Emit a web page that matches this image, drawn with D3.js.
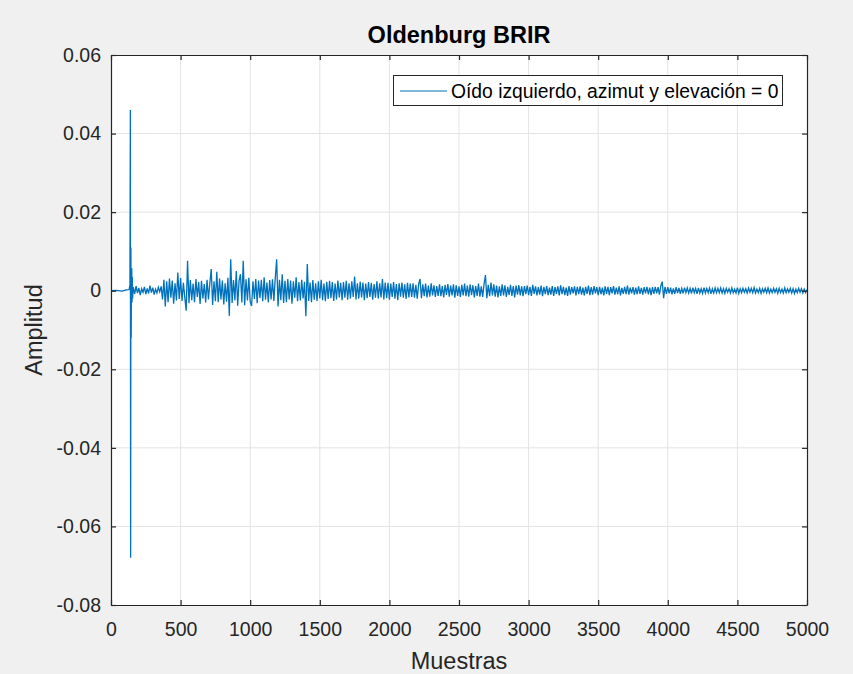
<!DOCTYPE html>
<html>
<head>
<meta charset="utf-8">
<script src="https://cdn.jsdelivr.net/npm/d3@7"></script>
<style>
  body { margin: 0; background: #f0f0f0; }
  svg { display: block; font-family: "Liberation Sans", Arial, sans-serif; }
</style>
</head>
<body>
<script>
// direct sound: sample index and amplitude (x 1e-3)
const onsetSamples = [0, 40, 80, 110, 130, 136, 139, 141, 143, 145, 147, 149, 151, 153, 155];
const onsetAmps = [0, 0.1, -0.1, 0.2, 0.3, 1.5, 46, -68, 11, -12, 3.5, 5.7, -3.0, 3.5, -2.0];

// reverberant tail read every 10 samples from sample 160 (x 1e-3)
const tailStart = 160;
const tailStep = 10;
const tailAmps = [
  0.9,-0.8,1.2,-0.6,0.7,-1.1,0.5,-0.4,1.0,-0.9,0.6,-0.7,1.3,-0.5,0.8,-1.0,0.4,-0.6,0.9,-0.3,
  1.1,-2.2,2.8,-4.0,2.4,-2.9,3.1,-1.8,2.6,-3.3,1.9,-2.5,4.6,-2.1,3.2,-2.6,2.0,-1.7,-5.1,7.6,
  -3.2,2.7,-2.4,1.8,-2.9,3.0,-1.6,2.2,-3.4,2.5,-2.0,1.7,-3.0,2.8,-2.2,1.9,5.5,-3.6,2.4,-2.7,
  4.8,-2.9,3.1,-2.2,2.6,-3.5,1.9,-2.8,3.3,-6.4,8.0,-3.1,2.7,-2.4,5.0,-3.8,2.5,4.2,-3.0,7.6,
  -3.7,2.9,-2.5,3.3,-2.8,-3.9,2.4,-2.1,3.0,-3.2,2.6,-1.9,2.8,-2.7,3.4,-2.3,2.1,-3.0,2.7,-2.2,
  2.9,-2.6,3.2,8.0,-4.0,2.8,-2.4,4.2,-3.1,2.5,-2.9,3.0,-2.2,2.6,-3.3,2.4,-1.8,3.4,-2.7,2.2,
  -2.5,2.8,-2.0,2.3,-6.5,6.8,-2.6,2.1,-2.9,2.7,-2.3,1.9,-2.6,2.4,-2.0,2.8,-2.4,1.8,-2.7,2.3,
  -2.1,2.5,-1.9,2.2,-2.6,1.8,-2.2,2.6,-1.7,2.0,-2.4,2.2,-1.8,2.5,-2.3,1.9,-2.0,2.4,-1.6,3.6,
  -2.2,1.9,-2.0,2.3,-1.7,2.1,-2.4,1.8,-1.9,2.2,-1.6,2.0,-2.3,1.7,-1.8,2.4,-2.0,1.9,-1.7,3.0,
  -2.2,2.1,-1.9,2.0,-2.3,1.8,-1.6,2.2,-2.0,1.7,-2.4,1.9,-1.5,2.1,-1.8,1.6,-2.1,2.0,-1.7,1.8,
  -1.6,1.9,-1.8,1.5,-2.0,1.7,3.0,-1.9,1.6,-1.4,1.8,-1.7,1.3,-1.5,1.9,-1.2,1.4,-1.6,1.2,-1.3,
  1.6,-1.4,1.2,-1.7,1.5,-1.1,1.7,-1.5,1.3,-1.2,1.6,-1.8,1.4,-1.3,1.1,-1.6,1.5,-1.2,1.8,-1.4,
  1.3,-1.5,1.6,-1.1,1.4,-1.7,1.2,-1.3,1.8,-1.5,1.1,-1.6,1.7,4.0,-1.9,1.5,-1.4,2.1,-1.2,1.6,
  -1.5,1.3,-1.7,1.1,-1.3,1.6,-1.2,1.4,-1.6,1.0,-1.1,1.5,-1.3,1.2,-1.7,1.3,-1.0,1.4,-1.2,1.1,
  -1.4,1.2,-0.9,1.3,-1.1,1.0,-1.3,1.5,-0.8,1.1,-1.2,0.9,-1.0,1.3,-1.4,1.0,-0.9,1.2,-1.1,0.8,
  -1.0,1.2,-1.3,0.9,-0.8,1.1,-1.2,1.4,-0.9,1.0,-1.1,0.8,-1.3,1.2,-1.0,0.9,-0.7,1.1,-1.2,1.0,
  -0.9,1.1,-1.0,0.8,-1.2,1.0,-0.8,1.3,-1.1,0.9,-1.0,1.2,-0.7,0.9,-1.1,1.0,-0.9,0.8,-1.2,1.1,
  -0.8,1.0,-1.1,0.9,-0.7,1.2,-1.0,0.8,-0.9,1.1,-1.2,0.7,-0.8,1.0,-0.9,1.3,-1.0,0.8,-0.7,0.9,
  -1.0,0.8,-0.9,1.1,-0.8,0.7,-1.0,0.9,-0.7,1.0,-0.9,0.8,-1.1,0.9,-0.8,1.0,-0.7,0.9,-1.0,1.2,
  2.3,-1.9,1.0,-0.8,0.9,-0.7,0.8,-0.9,0.6,-0.8,0.9,-0.6,0.7,-0.8,0.6,-0.7,0.8,-0.5,0.7,-0.6,
  0.6,-0.7,0.8,-0.5,0.6,-0.8,0.7,-0.6,0.5,-0.7,0.8,-0.6,0.6,-0.5,0.7,-0.8,0.5,-0.6,0.7,-0.5,
  0.6,-0.5,0.7,-0.6,0.5,-0.7,0.6,-0.4,0.5,-0.6,0.7,-0.5,0.4,-0.6,0.8,-0.7,0.5,-0.5,0.6,-0.4,
  0.5,-0.6,0.7,-0.4,0.6,-0.5,0.8,-0.6,0.4,-0.5,0.6,-0.7,0.5,-0.4,0.6,-0.5,0.7,-0.6,0.4,-0.5,
  0.6,-0.4,0.5,-0.7,0.6,-0.5,0.4,-0.6,0.7,-0.5,0.5,-0.4,0.6,-0.6,0.5,-0.7,0.4,-0.5,0.6,-0.4,
  0.5,-0.6,0.4,-0.5,0.3
];

const xTicks = [0, 500, 1000, 1500, 2000, 2500, 3000, 3500, 4000, 4500, 5000];
const yTicks = [-0.08, -0.06, -0.04, -0.02, 0, 0.02, 0.04, 0.06];

const titleText = "Oldenburg BRIR";
const xLabel = "Muestras";
const yLabel = "Amplitud";
const legendLabel = "Oído izquierdo, azimut y elevación = 0";

// build the series
let points = [];
for (let i = 0; i < onsetSamples.length; i++) {
  points.push({n: onsetSamples[i], a: onsetAmps[i] / 1000});
}
for (let i = 0; i < tailAmps.length; i++) {
  points.push({n: tailStart + i * tailStep, a: tailAmps[i] / 1000});
}

const W = 853, H = 674;
const m = {left: 111, right: 46, top: 55, bottom: 69};

let svg = d3.select("body").append("svg")
  .attr("width", W)
  .attr("height", H)
  .style("background-color", "#f0f0f0");

let x = d3.scaleLinear().domain([0, 5000]).range([m.left, W - m.right]);
let y = d3.scaleLinear().domain([-0.08, 0.06]).range([H - m.bottom, m.top]);

// plot area
svg.append("rect")
  .attr("x", m.left).attr("y", m.top)
  .attr("width", x(5000) - x(0)).attr("height", y(-0.08) - y(0.06))
  .attr("fill", "white");

// grid
svg.append("g").selectAll("line").data(xTicks.slice(1, -1)).enter()
  .append("line")
  .attr("x1", d => x(d)).attr("x2", d => x(d))
  .attr("y1", y(0.06)).attr("y2", y(-0.08))
  .attr("stroke", "#e3e3e3").attr("stroke-width", 1);
svg.append("g").selectAll("line").data(yTicks.slice(1, -1)).enter()
  .append("line")
  .attr("y1", d => y(d)).attr("y2", d => y(d))
  .attr("x1", x(0)).attr("x2", x(5000))
  .attr("stroke", "#e3e3e3").attr("stroke-width", 1);

// signal
let line = d3.line().x(d => x(d.n)).y(d => y(d.a));
svg.append("path")
  .datum(points)
  .attr("d", line)
  .attr("fill", "none")
  .attr("stroke", "#0072bd")
  .attr("stroke-width", 1.3)
  .attr("stroke-linejoin", "miter");

// axes (ticks inward, box on)
const axisColor = "#262626";
const fmtY = d => d === 0 ? "0" : d3.format(".2f")(d).replace("−", "-");

let gx = svg.append("g").attr("transform", `translate(0,${y(-0.08)})`)
  .call(d3.axisBottom(x).tickValues(xTicks).tickSizeInner(-5).tickSizeOuter(0).tickPadding(17).tickFormat(d3.format("d")));
let gxt = svg.append("g").attr("transform", `translate(0,${y(0.06)})`)
  .call(d3.axisTop(x).tickValues(xTicks).tickSizeInner(-5).tickSizeOuter(0).tickFormat(""));
let gy = svg.append("g").attr("transform", `translate(${x(0)},0)`)
  .call(d3.axisLeft(y).tickValues(yTicks).tickSizeInner(-5).tickSizeOuter(0).tickPadding(10).tickFormat(fmtY));
let gyr = svg.append("g").attr("transform", `translate(${x(5000)},0)`)
  .call(d3.axisRight(y).tickValues(yTicks).tickSizeInner(-5).tickSizeOuter(0).tickFormat(""));

[gx, gxt, gy, gyr].forEach(g => {
  g.select(".domain").attr("stroke", axisColor).attr("stroke-width", 1.2);
  g.selectAll(".tick line").attr("stroke", axisColor).attr("stroke-width", 1.2);
  g.selectAll("text").attr("fill", axisColor).style("font-size", "19.5px")
    .style("font-family", "Liberation Sans, Arial, sans-serif");
});

// title and labels
svg.append("text")
  .attr("x", (x(0) + x(5000)) / 2).attr("y", 43)
  .attr("text-anchor", "middle")
  .style("font-size", "23.5px").style("font-weight", "bold")
  .attr("fill", "#000")
  .text(titleText);

svg.append("text")
  .attr("x", (x(0) + x(5000)) / 2).attr("y", 669)
  .attr("text-anchor", "middle")
  .style("font-size", "23.5px")
  .attr("fill", axisColor)
  .text(xLabel);

svg.append("text")
  .attr("transform", `translate(42,${(y(0.06) + y(-0.08)) / 2}) rotate(-90)`)
  .attr("text-anchor", "middle")
  .style("font-size", "23.5px")
  .attr("fill", axisColor)
  .text(yLabel);

// legend
let lg = svg.append("g");
lg.append("rect")
  .attr("x", 393.5).attr("y", 75.5)
  .attr("width", 389).attr("height", 30)
  .attr("fill", "white").attr("stroke", axisColor).attr("stroke-width", 1);
lg.append("line")
  .attr("x1", 400).attr("x2", 447).attr("y1", 91).attr("y2", 91)
  .attr("stroke", "#0072bd").attr("stroke-width", 1.2);
lg.append("text")
  .attr("x", 451).attr("y", 98)
  .style("font-size", "19.3px")
  .attr("fill", "#000")
  .text(legendLabel);
</script>
</body>
</html>
